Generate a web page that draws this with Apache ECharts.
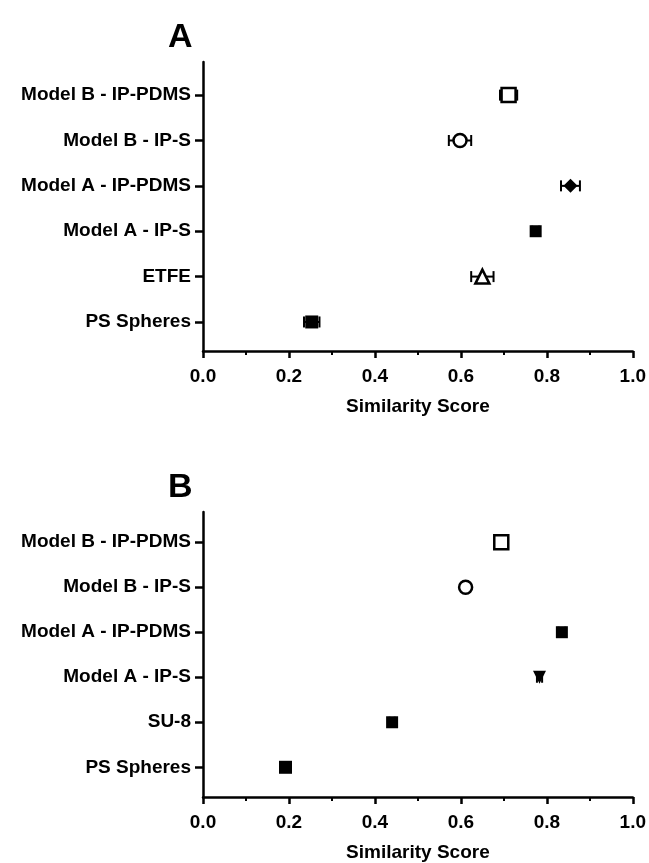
<!DOCTYPE html>
<html>
<head>
<meta charset="utf-8">
<style>
  html, body { margin: 0; padding: 0; background: #fff; }
  #chart { width: 649px; height: 863px; }
</style>
<script src="https://cdn.jsdelivr.net/npm/echarts@6/dist/echarts.min.js"></script>
</head>
<body>
<div id="chart"></div>
<script>
// Categories listed bottom to top (index 0 sits nearest the x axis)
const categoriesA = ['PS Spheres', 'ETFE', 'Model A - IP-S', 'Model A - IP-PDMS', 'Model B - IP-S', 'Model B - IP-PDMS'];
const meansA = [0.253, 0.650, 0.774, 0.855, 0.598, 0.711];
const errorsA = [0.018, 0.026, 0.008, 0.022, 0.026, 0.020];

const categoriesB = ['PS Spheres', 'SU-8', 'Model A - IP-S', 'Model A - IP-PDMS', 'Model B - IP-S', 'Model B - IP-PDMS'];
const meansB = [0.192, 0.440, 0.783, 0.835, 0.611, 0.694];
const errorsB = [0.006, 0.006, 0.006, 0.008, 0.004, 0.004];

const xTicks = [0, 0.2, 0.4, 0.6, 0.8, 1.0];

// Marker look per row: symbol, filled or hollow
const INV_TRI = 'path://M0,0 L10,0 L5,9 Z';
const markersA = [
  { symbol: 'rect', filled: true, size: 13 },
  { symbol: 'triangle', filled: false, size: 14 },
  { symbol: 'rect', filled: true, size: 12 },
  { symbol: 'diamond', filled: true, size: 14 },
  { symbol: 'circle', filled: false, size: 13 },
  { symbol: 'rect', filled: false, size: 14 }
];
const markersB = [
  { symbol: 'rect', filled: true, size: 13 },
  { symbol: 'rect', filled: true, size: 12 },
  { symbol: INV_TRI, filled: true, size: 13 },
  { symbol: 'rect', filled: true, size: 12 },
  { symbol: 'circle', filled: false, size: 13 },
  { symbol: 'rect', filled: false, size: 14 }
];

const FONT = '"Liberation Sans", Arial, sans-serif';
const INK = '#000';
const LABEL_SIZE = 19;

function errorSeries(means, errors, idx) {
  return {
    type: 'custom',
    xAxisIndex: idx, yAxisIndex: idx,
    z: 2,
    silent: true,
    data: means.map((m, i) => [m - errors[i], m + errors[i], i]),
    renderItem: function (params, api) {
      const lo = api.coord([api.value(0), api.value(2)]);
      const hi = api.coord([api.value(1), api.value(2)]);
      const cap = 5.5;
      const style = { stroke: INK, lineWidth: 2 };
      return {
        type: 'group',
        children: [
          { type: 'line', shape: { x1: lo[0], y1: lo[1], x2: hi[0], y2: hi[1] }, style },
          { type: 'line', shape: { x1: lo[0], y1: lo[1] - cap, x2: lo[0], y2: lo[1] + cap }, style },
          { type: 'line', shape: { x1: hi[0], y1: hi[1] - cap, x2: hi[0], y2: hi[1] + cap }, style }
        ]
      };
    }
  };
}

function markerSeries(means, markers, idx) {
  return {
    type: 'scatter',
    xAxisIndex: idx, yAxisIndex: idx,
    z: 3,
    silent: true,
    data: means.map((m, i) => ({
      value: [m, i],
      symbol: markers[i].symbol,
      symbolSize: markers[i].size,
      itemStyle: {
        opacity: 1,
        color: markers[i].filled ? INK : '#fff',
        borderColor: INK,
        borderWidth: markers[i].filled ? 0 : 2.5
      }
    }))
  };
}

function xAxis(idx) {
  return {
    type: 'value', gridIndex: idx,
    min: 0, max: 1, interval: 0.2,
    name: 'Similarity Score', nameLocation: 'middle', nameGap: 46,
    nameTextStyle: { fontFamily: FONT, fontWeight: 'bold', fontSize: LABEL_SIZE, color: INK },
    axisLine: { show: true, onZero: false, lineStyle: { color: INK, width: 2.5 } },
    axisTick: { show: true, length: 7, lineStyle: { color: INK, width: 2.5 }, customValues: xTicks },
    minorTick: { show: true, splitNumber: 2, length: 4, lineStyle: { color: INK, width: 2 } },
    axisLabel: {
      customValues: xTicks,
      margin: 16, fontFamily: FONT, fontWeight: 'bold', fontSize: LABEL_SIZE, color: INK,
      formatter: v => v.toFixed(1)
    },
    splitLine: { show: false }
  };
}

function yAxis(idx, cats, min, max) {
  const ticks = cats.map((_, i) => i);
  return {
    type: 'value', gridIndex: idx,
    min: min, max: max,
    axisLine: { show: true, onZero: false, lineStyle: { color: INK, width: 2.5 } },
    axisTick: { show: true, length: 8, lineStyle: { color: INK, width: 2.5 }, customValues: ticks },
    axisLabel: {
      customValues: ticks,
      margin: 12, fontFamily: FONT, fontWeight: 'bold', fontSize: LABEL_SIZE, color: INK,
      formatter: v => cats[Math.round(v)]
    },
    splitLine: { show: false }
  };
}

const chart = echarts.init(document.getElementById('chart'), null, { renderer: 'canvas' });
chart.setOption({
  animation: false,
  backgroundColor: '#fff',
  title: [
    { text: 'A', left: 163, top: 16, textStyle: { fontFamily: FONT, fontWeight: 'bold', fontSize: 34, color: INK } },
    { text: 'B', left: 163, top: 466, textStyle: { fontFamily: FONT, fontWeight: 'bold', fontSize: 34, color: INK } }
  ],
  grid: [
    { left: 203, right: 15, top: 62, height: 289 },
    { left: 203, right: 15, top: 512, height: 288 }
  ],
  xAxis: [xAxis(0), xAxis(1)],
  yAxis: [yAxis(0, categoriesA, -0.64, 5.73), yAxis(1, categoriesB, -0.66, 5.67)],
  series: [
    errorSeries(meansA, errorsA, 0),
    markerSeries(meansA, markersA, 0),
    errorSeries(meansB, errorsB, 1),
    markerSeries(meansB, markersB, 1)
  ]
});
</script>
</body>
</html>
